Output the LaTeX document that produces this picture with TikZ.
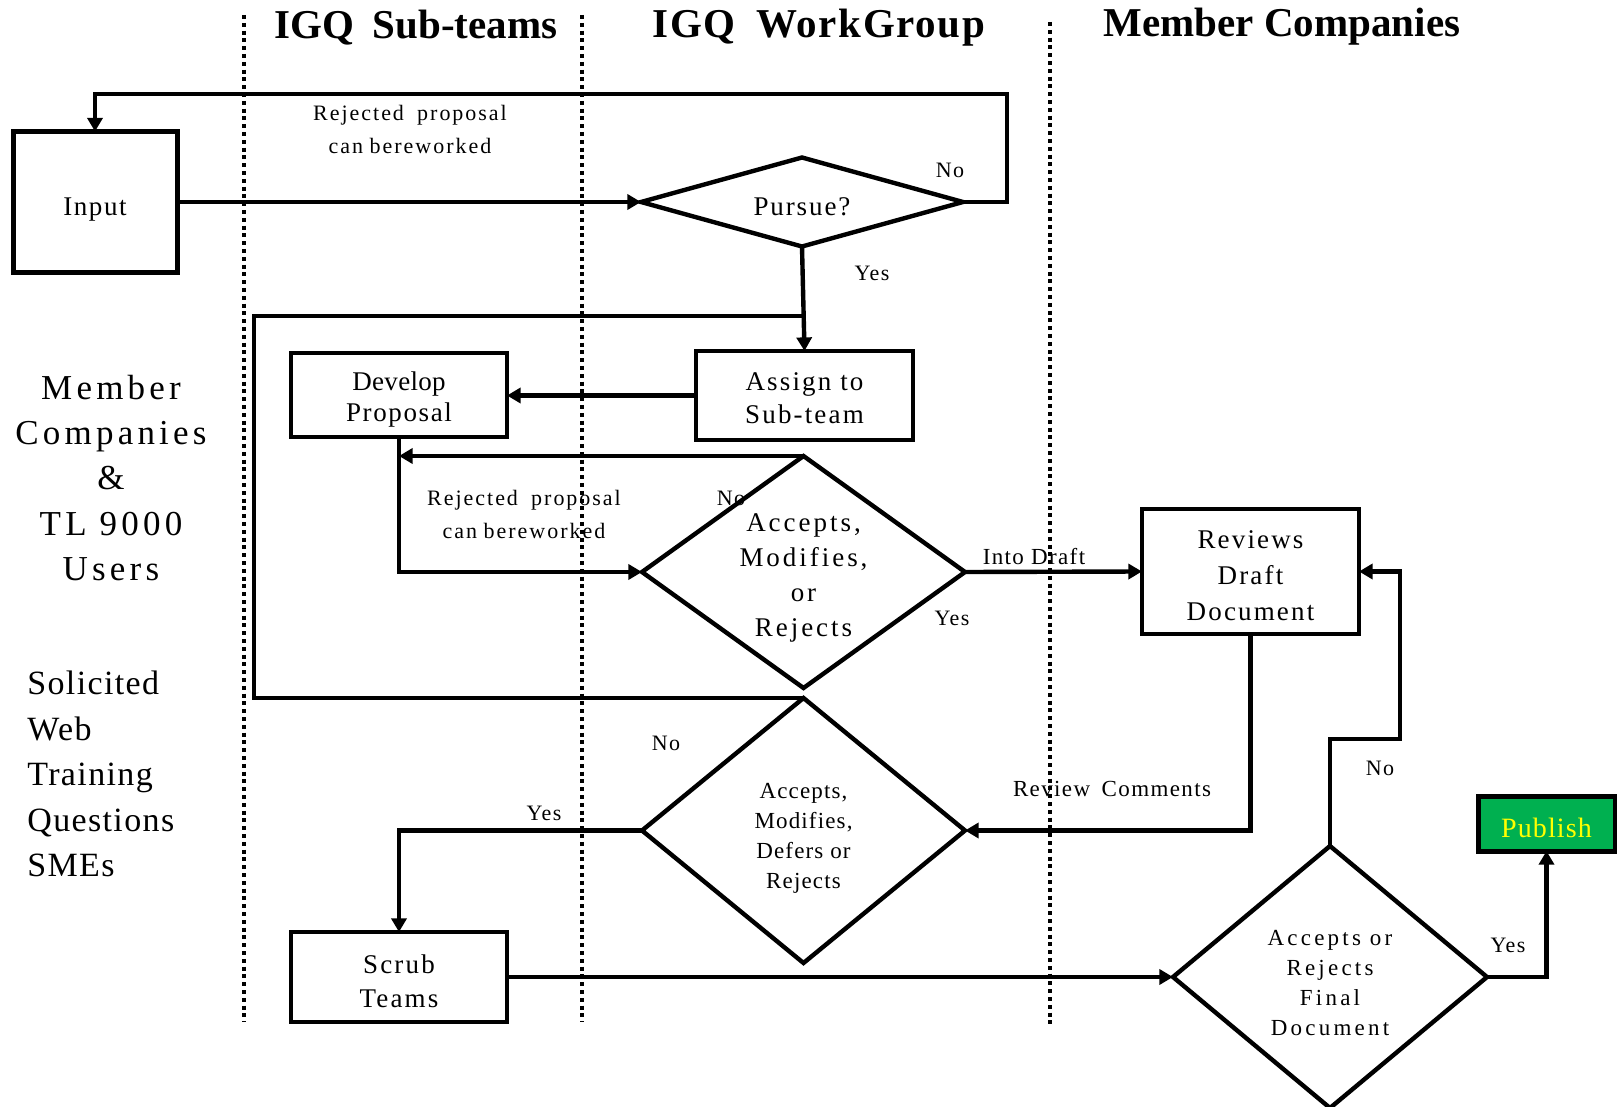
\documentclass[tikz,border=0pt]{standalone}
\usepackage{fontspec}
\setmainfont{Liberation Serif}
\usetikzlibrary{arrows.meta,shapes.geometric}
\definecolor{pubgreen}{HTML}{00B050}
\definecolor{pubyellow}{HTML}{FFFF00}
% invisible strut that moves the text of a node down by #1
\newcommand{\tdn}[1]{\rule{0pt}{\dimexpr 0.70em+2\dimexpr #1\relax\relax}}
\begin{document}
\begin{tikzpicture}[x=0.5pt,y=-0.5pt,
  box/.style={draw, line width=2.2pt, rectangle, inner sep=0pt, outer sep=0pt, align=center,
    font=\fontsize{13.5}{15.5}\selectfont\addfontfeatures{LetterSpace=6}},
  dia/.style={draw, line width=2.2pt, diamond, inner sep=-8pt, outer sep=0pt, align=center},
  conn/.style={line width=2.2pt, -{Triangle[length=6.8pt,width=7.5pt]}},
  plain/.style={line width=2.2pt},
  lane/.style={line width=2pt, dash pattern=on 2pt off 1.9pt},
  head/.style={inner sep=0pt, font=\fontsize{20.5}{24}\selectfont\bfseries},
  lbl/.style={inner sep=0pt, align=center, font=\fontsize{11}{16.5}\selectfont\addfontfeatures{LetterSpace=9}},
  yn/.style={inner sep=0pt, font=\fontsize{11}{13}\selectfont\addfontfeatures{LetterSpace=6}}
]
\useasboundingbox (0,0) rectangle (1617,1107);

% swimlane separators
\coordinate (l1t) at (244,15);  \coordinate (l1b) at (244,1022);
\coordinate (l2t) at (582,15);  \coordinate (l2b) at (582,1022);
\coordinate (l3t) at (1050,22); \coordinate (l3b) at (1050,1028);
\draw[lane] (l1t) -- (l1b);
\draw[lane] (l2t) -- (l2b);
\draw[lane] (l3t) -- (l3b);

% headers
\node[head] (h1) at (416,28) {IGQ\hspace{0.45em}Sub-teams};
\node[head, font=\fontsize{20.5}{24}\selectfont\bfseries\addfontfeatures{LetterSpace=4}] (h2) at (819,28) {IGQ\hspace{0.5em}WorkGroup};
\node[head] (h3) at (1282,27) {Member Companies};

% left texts
\node[inner sep=0pt, align=center, font=\fontsize{17.5}{22.6}\selectfont\addfontfeatures{LetterSpace=12}] (lt1) at (111,478)
  {Member\\Companies\\\&\\TL 9000\\Users};
\node[inner sep=0pt, align=left, anchor=west, font=\fontsize{17}{22.8}\selectfont\addfontfeatures{LetterSpace=4}] (lt2) at (27,774)
  {Solicited\\Web\\Training\\Questions\\SMEs};

% boxes
\node[box, line width=2.5pt, minimum width=82pt, minimum height=70.5pt] (input) at (95,202) {\tdn{3.5pt}Input};
\node[box, minimum width=108pt, minimum height=42pt] (develop) at (399,395)
  {\tdn{2pt}{\addfontfeatures{LetterSpace=1}Develop}\\Proposal};
\node[box, minimum width=108.5pt, minimum height=44.5pt, font=\fontsize{13.5}{16.5}\selectfont\addfontfeatures{LetterSpace=8}] (assign) at (804.5,395.5)
  {\tdn{1pt}Assign to\\Sub-team};
\node[box, minimum width=108.5pt, minimum height=62.5pt, font=\fontsize{13.5}{18}\selectfont\addfontfeatures{LetterSpace=8}] (reviews) at (1250.5,571.5)
  {\tdn{2pt}Reviews\\Draft\\Document};
\node[box, minimum width=108pt, minimum height=45pt, font=\fontsize{13.5}{17}\selectfont\addfontfeatures{LetterSpace=8}] (scrub) at (399,977)
  {\tdn{2pt}Scrub\\Teams};
\node[box, line width=2.5pt, fill=pubgreen, text=pubyellow, minimum width=68.5pt, minimum height=27.5pt,
  font=\fontsize{14}{16}\selectfont\addfontfeatures{LetterSpace=4}] (publish) at (1546.5,823.5) {\tdn{2pt}Publish};

% diamonds
\node[dia, shape aspect=3.62, minimum width=161pt, minimum height=44.5pt,
  font=\fontsize{13.5}{16}\selectfont\addfontfeatures{LetterSpace=7}] (pursue) at (802,202) {\tdn{2pt}Pursue?};
\node[dia, shape aspect=1.39, minimum width=161.5pt, minimum height=116pt,
  font=\fontsize{13.5}{17.5}\selectfont\addfontfeatures{LetterSpace=11}] (d2) at (803.5,572)
  {\tdn{2.5pt}Accepts,\\Modifies,\\or\\Rejects};
\node[dia, shape aspect=1.22, minimum width=161.5pt, minimum height=132.5pt,
  font=\fontsize{11.5}{15}\selectfont\addfontfeatures{LetterSpace=5}] (d3) at (803.5,830.5)
  {\tdn{3.5pt}Accepts,\\Modifies,\\Defers or\\Rejects};
\node[dia, shape aspect=1.2, minimum width=157pt, minimum height=131pt,
  font=\fontsize{11.5}{15}\selectfont\addfontfeatures{LetterSpace=14}] (d4) at (1330,977)
  {\tdn{3pt}Accepts or\\Rejects\\Final\\Document};

% connectors
\draw[conn] (input.east) -- (pursue.west);
\draw[conn] (pursue.east) -- (1007,202) -- (1007,94) -| (input.north);
\draw[conn] (pursue.south) -- (assign.north);
\draw[plain] (d3.north) -| (254,316) -- (803,316);
\draw[conn] (assign.west) -- (develop.east |- assign.west);
\draw[conn] (develop.south) |- (d2.west);
\draw[conn] (d2.north) -- (develop.south |- d2.north);
\draw[conn] (d2.east) -- (reviews.west);
\draw[conn] (reviews.south) |- (d3.east);
\draw[conn] (d3.west) -| (scrub.north);
\draw[conn] (scrub.east) -- (d4.west);
\draw[conn] (d4.east) -| (publish.south);
\draw[conn] (d4.north) -- (1330,739) -- (1400,739) |- (reviews.east);

% labels
\node[lbl] (rej1) at (410,129) {Rejected\hspace{0.6em}proposal\\can\hspace{0.3em}bereworked};
\node[lbl] (rej2) at (524,514) {Rejected\hspace{0.6em}proposal\\can\hspace{0.3em}bereworked};
\node[yn] (no1) at (950,170) {No};
\node[yn] (yes1) at (872,273) {Yes};
\node[yn] (no2) at (731,498) {No};
\node[yn] (yes2) at (952,618) {Yes};
\node[yn, font=\fontsize{11.5}{13}\selectfont\addfontfeatures{LetterSpace=6}] (into) at (1034,557) {Into Draft};
\node[yn, font=\fontsize{11.5}{13}\selectfont\addfontfeatures{LetterSpace=6}] (revc) at (1112,789) {Review\hspace{0.5em}Comments};
\node[yn] (no3) at (666,743) {No};
\node[yn] (yes3) at (544,813) {Yes};
\node[yn] (no4) at (1380,768) {No};
\node[yn] (yes4) at (1508,945) {Yes};
\end{tikzpicture}
\end{document}
